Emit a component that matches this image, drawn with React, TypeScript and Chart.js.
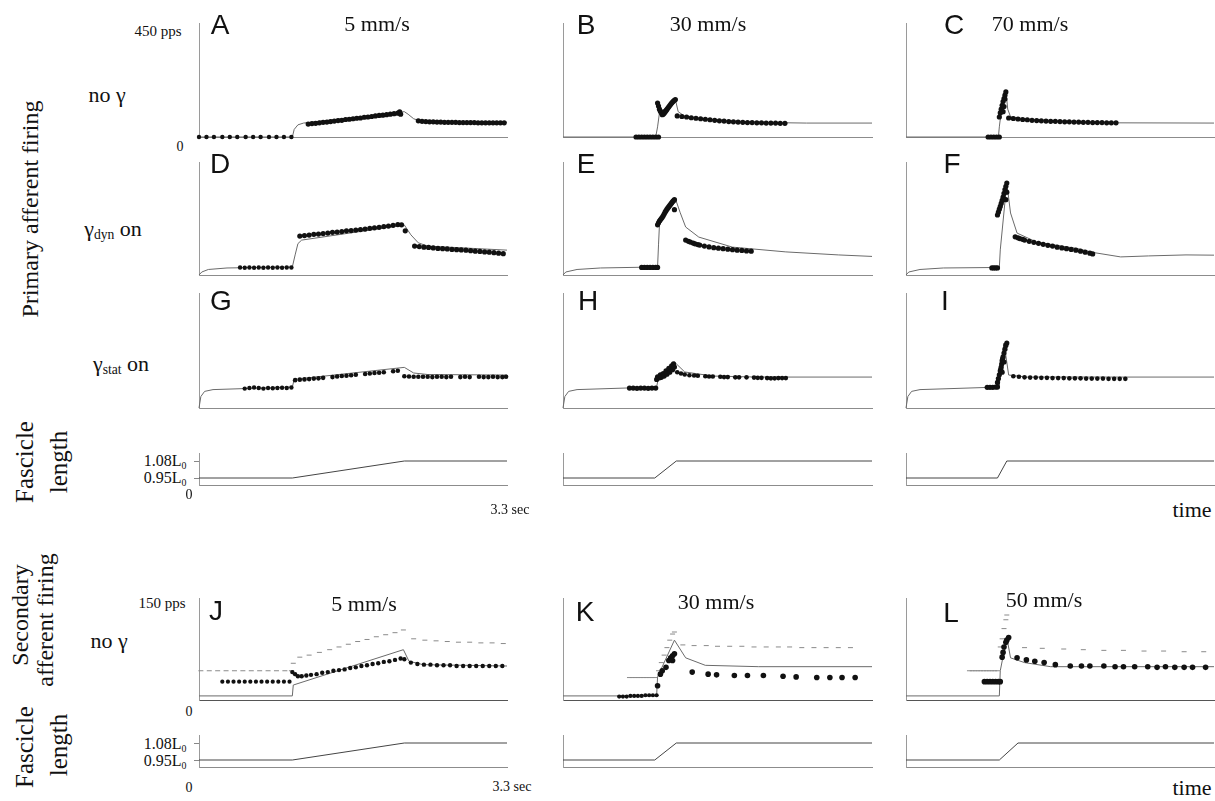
import React, { useEffect, useRef } from "react";
import { Chart, registerables } from "chart.js";

Chart.register(...registerables);

type Pt = [number, number]; // [time (s), value]

// ---------------- axis ranges ----------------
const TIME_MAX_S = 3.3;
const PRIMARY_MAX_PPS = 450;
const SECONDARY_MAX_PPS = 150;

// ---------------- Panel A: primary, no γ, 5 mm/s ----------------
const aModel: Pt[] = [[0, 0], [1.0, 0], [1.02, 30], [1.06, 48], [1.12, 55], [2.2, 100], [2.24, 90], [2.3, 72], [2.38, 62], [2.6, 59], [3.3, 58]];
const aPre: Pt[] = [[0, 0], [0.08, 0], [0.16, 0], [0.25, 0], [0.33, 0], [0.41, 0], [0.5, 0], [0.58, 0], [0.66, 0], [0.75, 0], [0.83, 0], [0.91, 0], [0.99, 0]];
const aRamp: Pt[] = [[1.17, 51], [1.21, 53], [1.25, 54], [1.29, 56], [1.33, 58], [1.37, 59], [1.41, 61], [1.45, 63], [1.49, 65], [1.53, 66], [1.57, 69], [1.61, 70], [1.65, 72], [1.69, 74], [1.73, 75], [1.77, 78], [1.81, 79], [1.85, 81], [1.89, 83], [1.93, 85], [1.97, 86], [2.01, 88], [2.05, 90], [2.09, 92], [2.13, 94], [2.15, 99], [2.16, 90]];
const aPost: Pt[] = [[2.35, 64], [2.39, 62], [2.43, 61], [2.47, 60], [2.51, 60], [2.55, 59], [2.59, 59], [2.63, 58], [2.67, 58], [2.71, 58], [2.75, 58], [2.79, 57], [2.83, 57], [2.87, 57], [2.91, 57], [2.95, 57], [2.99, 56], [3.03, 56], [3.07, 56], [3.11, 56], [3.15, 56], [3.19, 56], [3.23, 56], [3.27, 56]];

// ---------------- Panel B: primary, no γ, 30 mm/s ----------------
const bModel: Pt[] = [[0, 0], [0.99, 0], [1.01, 40], [1.03, 95], [1.06, 105], [1.12, 120], [1.2, 148], [1.23, 100], [1.3, 82], [1.5, 72], [1.8, 63], [2.2, 57], [2.6, 55], [3.3, 55]];
const bPre: Pt[] = [[0.78, 0], [0.81, 0], [0.84, 0], [0.87, 0], [0.9, 0], [0.93, 0], [0.96, 0], [0.99, 0], [1.02, 0]];
const bPeak: Pt[] = [[1.01, 134], [1.02, 122], [1.03, 110], [1.04, 102], [1.05, 96], [1.06, 88], [1.07, 90], [1.08, 94], [1.09, 99], [1.1, 104], [1.11, 109], [1.12, 114], [1.13, 119], [1.14, 124], [1.15, 129], [1.16, 134], [1.17, 138], [1.18, 142], [1.19, 145], [1.2, 148]];
const bPost: Pt[] = [[1.22, 83], [1.27, 81], [1.32, 79], [1.37, 76], [1.42, 74], [1.47, 72], [1.52, 70], [1.57, 68], [1.62, 66], [1.67, 64], [1.72, 63], [1.77, 61], [1.82, 60], [1.87, 59], [1.92, 58], [1.97, 57], [2.02, 57], [2.07, 56], [2.12, 56], [2.17, 55], [2.22, 55], [2.27, 55], [2.32, 54], [2.37, 54]];

// ---------------- Panel C: primary, no γ, 70 mm/s ----------------
const cModel: Pt[] = [[0, 0], [0.99, 0], [1.0, 40], [1.02, 100], [1.07, 185], [1.09, 110], [1.12, 80], [1.3, 70], [1.7, 62], [2.2, 56], [3.3, 55]];
const cPre: Pt[] = [[0.88, 0], [0.91, 0], [0.94, 0], [0.97, 0], [1.0, 0]];
const cRise: Pt[] = [[1.0, 79], [1.01, 95], [1.02, 110], [1.03, 125], [1.04, 140], [1.05, 152], [1.06, 165], [1.07, 178], [1.06, 150], [1.05, 120], [1.04, 100]];
const cPost: Pt[] = [[1.1, 75], [1.15, 73], [1.2, 71], [1.25, 69], [1.3, 68], [1.35, 66], [1.4, 65], [1.45, 64], [1.5, 63], [1.55, 62], [1.6, 62], [1.65, 61], [1.7, 60], [1.75, 60], [1.8, 59], [1.85, 59], [1.9, 58], [1.95, 58], [2.0, 57], [2.05, 57], [2.1, 57], [2.15, 56], [2.2, 56], [2.25, 56]];

// ---------------- Panel D: primary, γdyn on, 5 mm/s ----------------
const dModel: Pt[] = [[0, 0], [0.03, 12], [0.1, 22], [0.3, 28], [1.0, 32], [1.03, 80], [1.06, 125], [1.1, 139], [2.2, 199], [2.27, 160], [2.35, 128], [2.45, 115], [3.3, 99]];
const dPre: Pt[] = [[0.44, 30], [0.49, 29], [0.54, 30], [0.59, 29], [0.64, 30], [0.69, 29], [0.74, 30], [0.79, 29], [0.84, 30], [0.89, 29], [0.94, 30], [0.99, 30]];
const dRamp: Pt[] = [[1.08, 155], [1.13, 157], [1.18, 159], [1.23, 162], [1.28, 163], [1.33, 165], [1.38, 167], [1.43, 170], [1.48, 171], [1.53, 173], [1.58, 176], [1.63, 177], [1.68, 179], [1.73, 181], [1.78, 183], [1.83, 186], [1.88, 188], [1.93, 190], [1.98, 193], [2.03, 195], [2.08, 198], [2.13, 201], [2.17, 200], [2.21, 176]];
const dPost: Pt[] = [[2.31, 115], [2.36, 113], [2.41, 111], [2.46, 110], [2.51, 108], [2.56, 106], [2.61, 105], [2.66, 104], [2.71, 102], [2.76, 101], [2.81, 100], [2.86, 99], [2.91, 97], [2.96, 95], [3.01, 94], [3.06, 92], [3.11, 91], [3.16, 89], [3.21, 87], [3.26, 85]];

// ---------------- Panel E: primary, γdyn on, 30 mm/s ----------------
const eModel: Pt[] = [[0, 0], [0.03, 12], [0.15, 22], [0.4, 28], [1.01, 32], [1.02, 120], [1.03, 199], [1.2, 304], [1.25, 250], [1.31, 191], [1.45, 151], [1.81, 111], [2.38, 92], [2.94, 80], [3.3, 74]];
const ePre: Pt[] = [[0.84, 30], [0.87, 30], [0.9, 30], [0.93, 30], [0.96, 30], [0.99, 30], [1.01, 30]];
const eRise: Pt[] = [[1.01, 200], [1.02, 208], [1.03, 215], [1.04, 220], [1.05, 225], [1.06, 230], [1.07, 236], [1.08, 243], [1.09, 250], [1.1, 256], [1.11, 262], [1.12, 267], [1.13, 272], [1.14, 277], [1.15, 282], [1.16, 287], [1.17, 292], [1.18, 296], [1.19, 300], [1.19, 260]];
const ePost: Pt[] = [[1.31, 139], [1.34, 134], [1.36, 131], [1.39, 127], [1.41, 124], [1.44, 121], [1.46, 119], [1.51, 115], [1.56, 112], [1.61, 109], [1.66, 107], [1.71, 105], [1.76, 103], [1.81, 101], [1.86, 99], [1.91, 98], [1.96, 96], [2.01, 95]];

// ---------------- Panel F: primary, γdyn on, 70 mm/s ----------------
const fModel: Pt[] = [[0, 0], [0.03, 12], [0.15, 22], [0.4, 28], [1.0, 30], [1.01, 100], [1.08, 366], [1.12, 247], [1.19, 167], [1.4, 131], [1.84, 105], [2.0, 90], [2.3, 72], [2.6, 76], [3.0, 80], [3.3, 79]];
const fPre: Pt[] = [[0.92, 28], [0.94, 28], [0.96, 28], [0.98, 28]];
const fRise: Pt[] = [[0.98, 239], [0.99, 250], [1.0, 262], [1.01, 273], [1.02, 285], [1.03, 297], [1.04, 310], [1.05, 325], [1.06, 340], [1.07, 353], [1.08, 366], [1.07, 300], [1.08, 330]];
const fPost: Pt[] = [[1.17, 152], [1.2, 148], [1.22, 145], [1.25, 142], [1.27, 139], [1.32, 134], [1.37, 130], [1.42, 126], [1.47, 122], [1.52, 118], [1.57, 115], [1.62, 111], [1.67, 108], [1.72, 105], [1.77, 102], [1.82, 99], [1.87, 95], [1.92, 91], [1.97, 87], [2.0, 84]];

// ---------------- Panel G: primary, γstat on, 5 mm/s ----------------
const gModel: Pt[] = [[0, 0], [0.02, 45], [0.06, 65], [0.15, 72], [1.0, 82], [1.02, 112], [2.2, 159], [2.3, 137], [2.45, 131], [3.3, 129]];
const gPre: Pt[] = [[0.49, 76], [0.54, 78], [0.59, 80], [0.64, 78], [0.69, 76], [0.74, 78], [0.79, 77], [0.84, 78], [0.89, 79], [0.94, 78], [0.99, 80]];
const gRamp: Pt[] = [[1.03, 109], [1.08, 111], [1.13, 112], [1.18, 113], [1.23, 115], [1.28, 116], [1.33, 118], [1.43, 121], [1.48, 123], [1.53, 125], [1.58, 126], [1.63, 128], [1.68, 130], [1.78, 133], [1.83, 135], [1.88, 137], [1.93, 138], [1.98, 140], [2.08, 144], [2.13, 146]];
const gPost: Pt[] = [[2.2, 124], [2.25, 123], [2.3, 122], [2.35, 122], [2.4, 122], [2.45, 122], [2.5, 121], [2.55, 122], [2.6, 122], [2.65, 121], [2.7, 122], [2.8, 121], [2.85, 122], [2.9, 121], [3.0, 122], [3.05, 121], [3.1, 121], [3.15, 122], [3.2, 121], [3.25, 121], [3.29, 122]];

// ---------------- Panel H: primary, γstat on, 30 mm/s ----------------
const hModel: Pt[] = [[0, 0], [0.02, 45], [0.06, 65], [0.15, 72], [1.0, 82], [1.02, 121], [1.19, 180], [1.3, 141], [1.6, 125], [2.09, 121], [3.3, 121]];
const hPre: Pt[] = [[0.71, 78], [0.75, 78], [0.79, 77], [0.83, 78], [0.87, 78], [0.91, 77], [0.95, 78], [0.99, 78]];
const hRise: Pt[] = [[1.0, 112], [1.01, 122], [1.03, 118], [1.04, 130], [1.05, 120], [1.07, 135], [1.08, 125], [1.1, 145], [1.11, 132], [1.13, 155], [1.14, 140], [1.16, 165], [1.17, 150], [1.18, 173], [1.19, 160]];
const hPost: Pt[] = [[1.22, 140], [1.26, 135], [1.3, 131], [1.35, 128], [1.4, 127], [1.44, 126], [1.52, 124], [1.56, 123], [1.6, 123], [1.68, 122], [1.72, 121], [1.76, 121], [1.84, 120], [1.88, 120], [1.96, 120], [2.04, 119], [2.08, 118], [2.12, 118], [2.18, 117], [2.22, 116], [2.26, 116], [2.3, 117], [2.34, 117], [2.38, 117]];

// ---------------- Panel I: primary, γstat on, 70 mm/s ----------------
const iModel: Pt[] = [[0, 0], [0.02, 45], [0.06, 65], [0.15, 72], [1.0, 82], [1.01, 150], [1.05, 254], [1.1, 129], [1.3, 121], [3.3, 121]];
const iPre: Pt[] = [[0.87, 81], [0.9, 81], [0.93, 81], [0.96, 82], [0.98, 82]];
const iRise: Pt[] = [[0.98, 100], [0.99, 115], [1.0, 130], [1.01, 145], [1.015, 152], [1.02, 160], [1.025, 172], [1.03, 185], [1.035, 192], [1.04, 200], [1.05, 215], [1.06, 230], [1.07, 245], [1.08, 254], [1.05, 180], [1.03, 140]];
const iPost: Pt[] = [[1.15, 124], [1.21, 122], [1.27, 120], [1.33, 119], [1.39, 119], [1.45, 118], [1.51, 118], [1.57, 117], [1.63, 117], [1.69, 117], [1.75, 116], [1.81, 116], [1.87, 116], [1.93, 115], [1.99, 115], [2.05, 115], [2.11, 115], [2.17, 114], [2.23, 114], [2.29, 114], [2.35, 114]];

// ---------------- Panel J: secondary, no γ, 5 mm/s ----------------
const jModel: Pt[] = [[0, 6], [1.0, 6], [1.01, 22], [2.19, 74], [2.25, 57], [2.4, 52], [3.3, 50]];
const jMarks: Pt[] = [[0.02, 43], [0.11, 43], [0.2, 43], [0.29, 43], [0.38, 43], [0.47, 43], [0.56, 43], [0.65, 43], [0.74, 43], [0.83, 43], [0.92, 43], [0.99, 43], [1.01, 54], [1.08, 63], [1.18, 66], [1.29, 70], [1.4, 74], [1.5, 78], [1.6, 82], [1.7, 86], [1.8, 89], [1.9, 93], [2.0, 96], [2.1, 99], [2.19, 103], [2.3, 90], [2.42, 88], [2.54, 87], [2.66, 86], [2.78, 85], [2.9, 85], [3.02, 84], [3.14, 84], [3.26, 83]];
const jPre: Pt[] = [[0.25, 27], [0.31, 27], [0.37, 27], [0.43, 27], [0.49, 27], [0.55, 27], [0.61, 27], [0.67, 27], [0.73, 27], [0.79, 27], [0.85, 27], [0.91, 27], [0.97, 27]];
const jRamp: Pt[] = [[1.0, 41], [1.03, 38], [1.06, 35], [1.1, 35], [1.15, 36], [1.2, 37], [1.26, 38], [1.32, 40], [1.38, 41], [1.44, 43], [1.5, 44], [1.56, 45], [1.62, 47], [1.68, 48], [1.74, 50], [1.8, 51], [1.86, 53], [1.92, 54], [1.98, 56], [2.04, 57], [2.1, 59], [2.16, 61], [2.2, 60]];
const jPost: Pt[] = [[2.27, 55], [2.34, 53], [2.41, 52], [2.48, 52], [2.55, 51], [2.62, 51], [2.69, 51], [2.76, 50], [2.83, 50], [2.9, 50], [2.97, 50], [3.04, 50], [3.11, 50], [3.18, 50], [3.25, 50]];

// ---------------- Panel K: secondary, no γ, 30 mm/s ----------------
const kModel: Pt[] = [[0, 6], [1.0, 6], [1.01, 34], [1.19, 88], [1.31, 62], [1.52, 51], [2.09, 49], [3.3, 49]];
const kMarks: Pt[] = [[0.71, 33], [0.74, 33], [0.77, 33], [0.8, 33], [0.83, 33], [0.86, 33], [0.89, 33], [0.92, 33], [0.95, 33], [0.98, 33], [1.02, 43], [1.05, 55], [1.08, 66], [1.11, 77], [1.14, 88], [1.17, 97], [1.19, 100], [1.28, 81], [1.4, 80], [1.53, 80], [1.65, 79], [1.78, 79], [1.91, 79], [2.04, 78], [2.17, 78], [2.3, 78], [2.42, 78], [2.55, 77], [2.68, 77], [2.81, 77], [2.94, 77], [3.07, 77]];
const kPre: Pt[] = [[0.6, 5], [0.64, 5], [0.68, 5], [0.72, 6], [0.76, 6], [0.8, 6], [0.84, 6], [0.88, 7], [0.92, 7], [0.96, 7], [1.0, 7]];
const kRise: Pt[] = [[1.01, 21], [1.04, 38], [1.06, 43], [1.1, 48], [1.13, 58], [1.15, 62], [1.17, 65], [1.19, 68], [1.17, 58]];
const kPost: Pt[] = [[1.38, 41], [1.55, 38], [1.64, 37], [1.83, 36], [1.97, 36], [2.14, 36], [2.35, 35], [2.49, 34], [2.71, 33], [2.85, 33], [2.98, 33], [3.12, 33]];

// ---------------- Panel L: secondary, no γ, 50 mm/s ----------------
const lModel: Pt[] = [[0, 6], [1.0, 6], [1.01, 43], [1.08, 92], [1.12, 62], [1.27, 55], [1.55, 49], [3.3, 49]];
const lMarks: Pt[] = [[0.68, 43], [0.71, 43], [0.74, 43], [0.77, 43], [0.8, 43], [0.83, 43], [0.86, 43], [0.89, 43], [0.92, 43], [0.95, 43], [0.98, 43], [1.01, 78], [1.03, 90], [1.05, 105], [1.07, 118], [1.08, 125], [1.27, 77], [1.46, 76], [1.69, 75], [1.9, 74], [2.12, 73], [2.33, 73], [2.55, 72], [2.76, 72], [2.98, 71], [3.19, 71]];
const lPre: Pt[] = [[0.84, 27], [0.87, 27], [0.9, 27], [0.93, 27], [0.96, 27], [0.99, 27], [1.01, 27]];
const lRise: Pt[] = [[1.03, 63], [1.04, 70], [1.05, 78], [1.07, 85], [1.08, 88], [1.1, 92]];
const lPost: Pt[] = [[1.19, 62], [1.29, 59], [1.38, 57], [1.48, 55], [1.6, 52], [1.76, 50], [1.88, 50], [1.97, 50], [2.12, 50], [2.24, 49], [2.33, 49], [2.45, 49], [2.59, 49], [2.69, 48], [2.78, 49], [2.88, 48], [2.98, 48], [3.07, 48], [3.21, 48]];

// ---------------- fascicle length (L / L0) ----------------
const fasSlow: Pt[] = [[0, 0.95], [1.0, 0.95], [2.2, 1.08], [3.3, 1.08]];
const fas30: Pt[] = [[0, 0.95], [0.98, 0.95], [1.21, 1.08], [3.3, 1.08]];
const fas70: Pt[] = [[0, 0.95], [0.98, 0.95], [1.08, 1.08], [3.3, 1.08]];
const fas50: Pt[] = [[0, 0.95], [1.0, 0.95], [1.2, 1.08], [3.3, 1.08]];
const fasTicks = [0.95, 1.08];

// ---------------- layout ----------------
const PAD = 6;
const COLS: [number, number][] = [[199, 507], [563, 872], [906, 1214]];
const ROWS: [number, number][] = [[23, 137], [162, 275], [293, 408], [453, 485], [598, 700], [735, 767]];
const FAS_RANGE: [number, number] = [0.8965, 1.1412];

type Series = { kind: "model" | "spikes" | "marks"; pts: Pt[]; r?: number };
type PanelDef = {
  id: string; col: number; row: number; yMin: number; yMax: number;
  series: Series[]; yTicks?: number[]; xAxisColor?: string; modelColor?: string;
};

const M = (pts: Pt[]): Series => ({ kind: "model", pts });
const S = (pts: Pt[], r?: number): Series => ({ kind: "spikes", pts, r });
const K = (pts: Pt[]): Series => ({ kind: "marks", pts });

const PANELS: PanelDef[] = [
  { id: "A", col: 0, row: 0, yMin: 0, yMax: PRIMARY_MAX_PPS, series: [M(aModel), S(aPre, 2.2), S(aRamp), S(aPost)] },
  { id: "B", col: 1, row: 0, yMin: 0, yMax: PRIMARY_MAX_PPS, series: [M(bModel), S(bPre), S(bPeak), S(bPost)] },
  { id: "C", col: 2, row: 0, yMin: 0, yMax: PRIMARY_MAX_PPS, series: [M(cModel), S(cPre), S(cRise), S(cPost)] },
  { id: "D", col: 0, row: 1, yMin: 0, yMax: PRIMARY_MAX_PPS, series: [M(dModel), S(dPre, 2.2), S(dRamp), S(dPost)] },
  { id: "E", col: 1, row: 1, yMin: 0, yMax: PRIMARY_MAX_PPS, series: [M(eModel), S(ePre), S(eRise), S(ePost)] },
  { id: "F", col: 2, row: 1, yMin: 0, yMax: PRIMARY_MAX_PPS, series: [M(fModel), S(fPre), S(fRise), S(fPost)] },
  { id: "G", col: 0, row: 2, yMin: 0, yMax: PRIMARY_MAX_PPS, series: [M(gModel), S(gPre, 2.2), S(gRamp, 2.3), S(gPost, 2.3)] },
  { id: "H", col: 1, row: 2, yMin: 0, yMax: PRIMARY_MAX_PPS, series: [M(hModel), S(hPre), S(hRise), S(hPost, 2.3)] },
  { id: "I", col: 2, row: 2, yMin: 0, yMax: PRIMARY_MAX_PPS, series: [M(iModel), S(iPre), S(iRise), S(iPost, 2.3)] },
  { id: "fas1a", col: 0, row: 3, yMin: FAS_RANGE[0], yMax: FAS_RANGE[1], series: [M(fasSlow)], yTicks: fasTicks, modelColor: "#444" },
  { id: "fas1b", col: 1, row: 3, yMin: FAS_RANGE[0], yMax: FAS_RANGE[1], series: [M(fas30)], modelColor: "#444" },
  { id: "fas1c", col: 2, row: 3, yMin: FAS_RANGE[0], yMax: FAS_RANGE[1], series: [M(fas70)], modelColor: "#444" },
  { id: "J", col: 0, row: 4, yMin: 0, yMax: SECONDARY_MAX_PPS, series: [M(jModel), K(jMarks), S(jPre, 2.1), S(jRamp, 2.2), S(jPost, 2.2)], xAxisColor: "#555" },
  { id: "K", col: 1, row: 4, yMin: 0, yMax: SECONDARY_MAX_PPS, series: [M(kModel), K(kMarks), S(kPre, 2.1), S(kRise, 2.8), S(kPost, 2.8)], xAxisColor: "#555" },
  { id: "L", col: 2, row: 4, yMin: 0, yMax: SECONDARY_MAX_PPS, series: [M(lModel), K(lMarks), S(lPre, 2.8), S(lRise, 2.8), S(lPost, 2.8)], xAxisColor: "#555" },
  { id: "fas2a", col: 0, row: 5, yMin: FAS_RANGE[0], yMax: FAS_RANGE[1], series: [M(fasSlow)], yTicks: fasTicks, modelColor: "#444" },
  { id: "fas2b", col: 1, row: 5, yMin: FAS_RANGE[0], yMax: FAS_RANGE[1], series: [M(fas30)], modelColor: "#444" },
  { id: "fas2c", col: 2, row: 5, yMin: FAS_RANGE[0], yMax: FAS_RANGE[1], series: [M(fas50)], modelColor: "#444" },
];

function Panel({ def }: { def: PanelDef }) {
  const ref = useRef<HTMLCanvasElement | null>(null);
  const [x0, x1] = COLS[def.col];
  const [y0, y1] = ROWS[def.row];
  const tick = def.yTicks ? 5 : 0;
  const W = x1 - x0 + 2 * PAD + tick;
  const H = y1 - y0 + 2 * PAD;

  useEffect(() => {
    if (!ref.current) return;
    const datasets = def.series.map((s) => {
      const data = s.pts.map(([x, y]) => ({ x, y }));
      if (s.kind === "model") {
        return { data, showLine: true, borderColor: def.modelColor ?? "#6a6a6a", borderWidth: 1, pointRadius: 0, tension: 0, clip: false, order: 2 };
      }
      if (s.kind === "marks") {
        return { data, showLine: false, pointStyle: "line", pointRadius: 2.5, borderColor: "#8a8a8a", backgroundColor: "#8a8a8a", pointBorderWidth: 1, clip: false, order: 1 };
      }
      return { data, showLine: false, pointRadius: s.r ?? 2.6, backgroundColor: "#111", borderColor: "#111", pointBorderWidth: 0, clip: false, order: 0 };
    });
    const yGrid = def.yTicks
      ? { display: true, drawOnChartArea: false, drawTicks: true, tickLength: 5, color: "#888", lineWidth: 1 }
      : { display: false, drawTicks: false };
    const chart = new Chart(ref.current, {
      type: "scatter",
      data: { datasets } as any,
      options: {
        animation: false,
        responsive: false,
        maintainAspectRatio: false,
        events: [],
        layout: { padding: { left: PAD, right: PAD, top: PAD, bottom: PAD } },
        plugins: { legend: { display: false }, tooltip: { enabled: false } },
        scales: {
          x: {
            type: "linear", min: 0, max: TIME_MAX_S,
            grid: { display: false, drawTicks: false },
            ticks: { display: false },
            border: { display: true, color: def.xAxisColor ?? "#8c8c8c", width: 1 },
          },
          y: {
            type: "linear", min: def.yMin, max: def.yMax,
            grid: yGrid,
            ticks: { display: false },
            border: { display: true, color: "#9a9a9a", width: 1 },
            afterBuildTicks: def.yTicks
              ? (scale: any) => { scale.ticks = def.yTicks!.map((v) => ({ value: v })); }
              : undefined,
          },
        },
      } as any,
    });
    return () => chart.destroy();
  }, [def]);

  return (
    <canvas
      ref={ref}
      width={W}
      height={H}
      style={{ position: "absolute", left: x0 - PAD - tick, top: y0 - PAD, width: W, height: H }}
    />
  );
}

const SERIF = '"Liberation Serif", "Times New Roman", serif';
const SANS = '"Liberation Sans", Arial, sans-serif';

function T({ x, y, size, family = SERIF, rotate = false, children }: any) {
  return (
    <div
      style={{
        position: "absolute", left: x, top: y,
        transform: `translate(-50%, -50%)${rotate ? " rotate(-90deg)" : ""}`,
        fontSize: size, fontFamily: family, lineHeight: 1, whiteSpace: "nowrap", color: "#111",
      }}
    >
      {children}
    </div>
  );
}

const subStyle: React.CSSProperties = { fontSize: "0.62em", verticalAlign: "-0.25em" };

export default function App() {
  return (
    <div style={{ position: "absolute", left: 0, top: 0, width: 1215, height: 801, overflow: "hidden", background: "#fff" }}>
      {PANELS.map((p) => <Panel key={p.id} def={p} />)}

      {/* left group labels */}
      <T x={30} y={209} size={24} rotate>Primary afferent firing</T>
      <T x={24} y={462} size={25} rotate>Fascicle</T>
      <T x={58} y={462} size={25} rotate>length</T>
      <T x={20} y={615} size={24} rotate>Secondary</T>
      <T x={45} y={620} size={24} rotate>afferent firing</T>
      <T x={24} y={747} size={25} rotate>Fascicle</T>
      <T x={58} y={745} size={25} rotate>length</T>

      {/* row labels */}
      <T x={107} y={95} size={22}>no γ</T>
      <T x={113} y={230} size={22}>γ<span style={subStyle}>dyn</span> on</T>
      <T x={121} y={365} size={22}>γ<span style={subStyle}>stat</span> on</T>
      <T x={109} y={641} size={22}>no γ</T>

      {/* axis annotations */}
      <T x={158} y={31} size={15}>450 pps</T>
      <T x={180} y={147} size={14}>0</T>
      <T x={165} y={462} size={16}>1.08L<span style={subStyle}>0</span></T>
      <T x={165} y={479} size={16}>0.95L<span style={subStyle}>0</span></T>
      <T x={189} y={495} size={14}>0</T>
      <T x={510} y={510} size={14}>3.3 sec</T>
      <T x={1192} y={510} size={22}>time</T>
      <T x={162} y={603} size={15}>150 pps</T>
      <T x={189} y={712} size={14}>0</T>
      <T x={165} y={745} size={16}>1.08L<span style={subStyle}>0</span></T>
      <T x={165} y={762} size={16}>0.95L<span style={subStyle}>0</span></T>
      <T x={189} y={788} size={14}>0</T>
      <T x={512} y={787} size={14}>3.3 sec</T>
      <T x={1192} y={788} size={22}>time</T>

      {/* panel letters and speeds */}
      <T x={220} y={25} size={28} family={SANS}>A</T>
      <T x={377} y={24} size={22}>5 mm/s</T>
      <T x={586} y={25} size={28} family={SANS}>B</T>
      <T x={708} y={24} size={22}>30 mm/s</T>
      <T x={954} y={25} size={28} family={SANS}>C</T>
      <T x={1030} y={24} size={22}>70 mm/s</T>
      <T x={220} y={164} size={28} family={SANS}>D</T>
      <T x={586} y={164} size={28} family={SANS}>E</T>
      <T x={952} y={164} size={28} family={SANS}>F</T>
      <T x={221} y={301} size={28} family={SANS}>G</T>
      <T x={588} y={301} size={28} family={SANS}>H</T>
      <T x={945} y={301} size={28} family={SANS}>I</T>
      <T x={216} y={611} size={28} family={SANS}>J</T>
      <T x={364} y={604} size={22}>5 mm/s</T>
      <T x={585} y={612} size={28} family={SANS}>K</T>
      <T x={716} y={602} size={22}>30 mm/s</T>
      <T x={951} y={613} size={28} family={SANS}>L</T>
      <T x={1044} y={600} size={22}>50 mm/s</T>
    </div>
  );
}
